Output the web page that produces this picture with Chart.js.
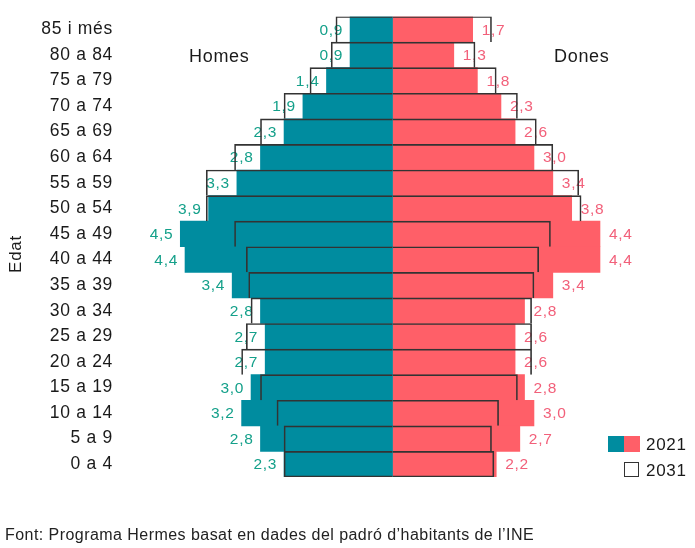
<!DOCTYPE html>
<html>
<head>
<meta charset="utf-8">
<script src="https://cdn.jsdelivr.net/npm/chart.js@4.4.1/dist/chart.umd.min.js"></script>
<style>
  html, body { margin: 0; padding: 0; background: #ffffff; }
  #wrap { position: relative; width: 695px; height: 548px; }
</style>
</head>
<body>
<div id="wrap"><canvas id="c"></canvas></div>
<script>
const ageGroups = ['85 i més','80 a 84','75 a 79','70 a 74','65 a 69','60 a 64','55 a 59','50 a 54','45 a 49','40 a 44','35 a 39','30 a 34','25 a 29','20 a 24','15 a 19','10 a 14','5 a 9','0 a 4'];
const men2021   = [0.9, 0.9, 1.4, 1.9, 2.3, 2.8, 3.3, 3.9, 4.5, 4.4, 3.4, 2.8, 2.7, 2.7, 3.0, 3.2, 2.8, 2.3];
const women2021 = [1.7, 1.3, 1.8, 2.3, 2.6, 3.0, 3.4, 3.8, 4.4, 4.4, 3.4, 2.8, 2.6, 2.6, 2.8, 3.0, 2.7, 2.2];
const men2031   = [1.2, 1.3, 1.75, 2.3, 2.8, 3.35, 3.95, 3.95, 3.35, 3.1, 3.05, 3.0, 3.1, 3.2, 2.8, 2.45, 2.3, 2.3];
const women2031 = [2.1, 1.75, 2.2, 2.65, 3.05, 3.4, 3.95, 4.0, 3.35, 3.1, 3.0, 2.95, 2.95, 2.95, 2.65, 2.25, 2.1, 2.15];
const sideLabels = ['Homes', 'Dones'];
const legendLabels = ['2021', '2031'];
const axisTitle = 'Edat';
const sourceNote = 'Font: Programa Hermes basat en dades del padró d’habitants de l’INE';

const TEAL = '#008c9f';
const RED = '#ff5f68';
const TEAL_TXT = '#14a08a';
const RED_TXT = '#f2607a';
const OUTLINE = '#333333';
const FONT = '"Liberation Sans", Arial, sans-serif';
const last = ageGroups.length - 1;

const fmt = v => v.toFixed(1).replace('.', ',');

const outlineWidth = side => ctx => ({
  top: 1,
  bottom: ctx.dataIndex === last ? 1 : 0,
  left: side === 'men' ? 1 : 0,
  right: side === 'men' ? 0 : 1
});

const extrasPlugin = {
  id: 'extras',
  beforeDraw(chart) {
    chart.ctx.letterSpacing = '0.7px';
  },
  beforeDatasetsDraw(chart) {
    const ctx = chart.ctx;
    const xs = chart.scales.x, ys = chart.scales.y;
    ctx.save();
    ctx.font = '15.5px ' + FONT;
    ctx.textBaseline = 'middle';
    ageGroups.forEach((g, i) => {
      const y = ys.getPixelForValue(i);
      ctx.fillStyle = TEAL_TXT;
      ctx.textAlign = 'right';
      ctx.fillText(fmt(men2021[i]), xs.getPixelForValue(-men2021[i]) - 7, y + 1);
      ctx.fillStyle = RED_TXT;
      ctx.textAlign = 'left';
      ctx.fillText(fmt(women2021[i]), xs.getPixelForValue(women2021[i]) + 9, y + 1);
    });
    ctx.restore();
  },
  afterDraw(chart) {
    const ctx = chart.ctx;
    ctx.save();
    ctx.fillStyle = '#1a1a1a';
    ctx.textBaseline = 'middle';
    ctx.font = '18px ' + FONT;
    ctx.textAlign = 'left';
    ctx.fillText(sideLabels[0], 189, 57);
    ctx.fillText(sideLabels[1], 554, 57);
    // axis title
    ctx.save();
    ctx.translate(16, 254);
    ctx.rotate(-Math.PI / 2);
    ctx.textAlign = 'center';
    ctx.font = '17px ' + FONT;
    ctx.fillText(axisTitle, 0, 0);
    ctx.restore();
    // legend
    ctx.fillStyle = TEAL;
    ctx.fillRect(608, 436, 16, 16);
    ctx.fillStyle = RED;
    ctx.fillRect(624, 436, 16, 16);
    ctx.fillStyle = '#ffffff';
    ctx.fillRect(624, 462, 15, 15);
    ctx.strokeStyle = OUTLINE;
    ctx.lineWidth = 1;
    ctx.strokeRect(624.5, 462.5, 14, 14);
    ctx.fillStyle = '#1a1a1a';
    ctx.font = '17px ' + FONT;
    ctx.fillText(legendLabels[0], 646, 445);
    ctx.fillText(legendLabels[1], 646, 471);
    // source
    ctx.letterSpacing = '0.45px';
    ctx.font = '16px ' + FONT;
    ctx.fillStyle = '#222222';
    ctx.fillText(sourceNote, 5, 536);
    ctx.restore();
  }
};

new Chart(document.getElementById('c'), {
  type: 'bar',
  data: {
    labels: ageGroups,
    datasets: [
      { label: 'Homes 2031', data: men2031.map(v => -v), backgroundColor: 'rgba(0,0,0,0)', borderColor: OUTLINE, borderWidth: outlineWidth('men'), borderSkipped: false, order: 0 },
      { label: 'Dones 2031', data: women2031, backgroundColor: 'rgba(0,0,0,0)', borderColor: OUTLINE, borderWidth: outlineWidth('women'), borderSkipped: false, order: 0 },
      { label: 'Homes 2021', data: men2021.map(v => -v), backgroundColor: TEAL, borderWidth: 0, order: 1 },
      { label: 'Dones 2021', data: women2021, backgroundColor: RED, borderWidth: 0, order: 1 }
    ]
  },
  options: {
    indexAxis: 'y',
    responsive: true,
    maintainAspectRatio: false,
    animation: false,
    layout: { padding: { left: 0, right: 29, top: 10, bottom: 71 } },
    datasets: { bar: { grouped: false, categoryPercentage: 1, barPercentage: 1 } },
    plugins: { legend: { display: false }, tooltip: { enabled: false }, title: { display: false } },
    scales: {
      x: { display: false, min: -5.8, max: 5.8 },
      y: {
        grid: { display: false, drawTicks: false },
        border: { display: false },
        ticks: { color: '#1a1a1a', font: { family: FONT, size: 17.5 }, padding: 6 },
        afterFit(scale) { scale.width = 119; }
      }
    }
  },
  plugins: [extrasPlugin]
});
</script>
</body>
</html>
